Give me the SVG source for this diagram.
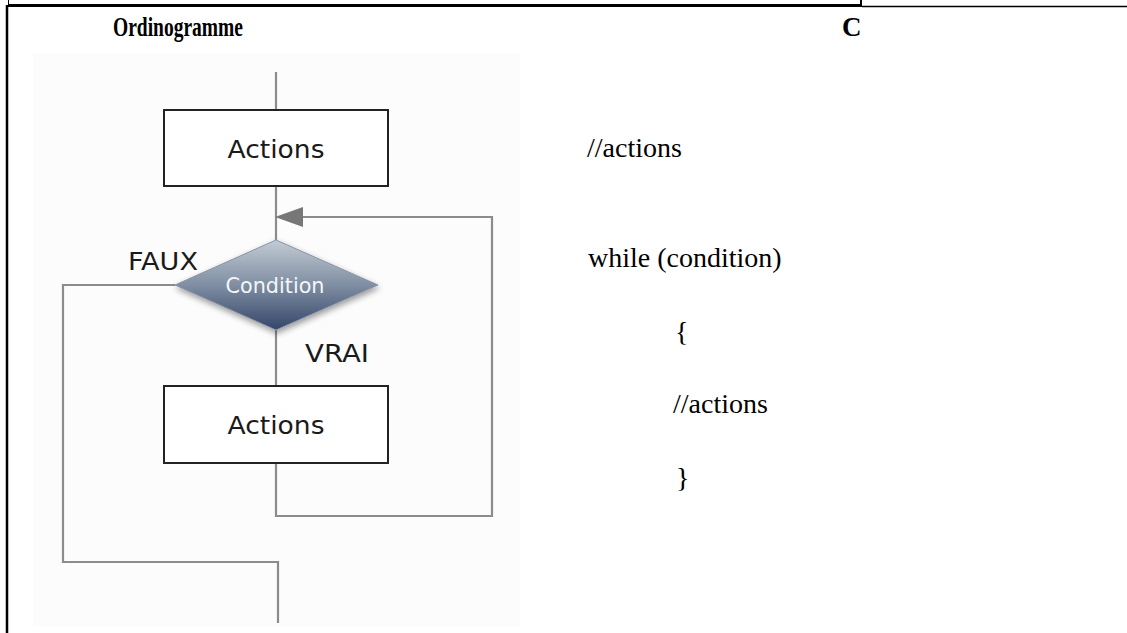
<svg xmlns="http://www.w3.org/2000/svg" width="1127" height="633" viewBox="0 0 1127 633">
  <style>
    .heading { font-family: "Liberation Serif", "Times New Roman", serif; font-weight: bold; font-size: 27px; fill: #000; }
    .code { font-family: "Liberation Serif", "Times New Roman", serif; font-size: 28px; fill: #000; }
    .lbl { font-family: "DejaVu Sans", Verdana, sans-serif; font-size: 25px; fill: #1a1a1a; }
    .box { fill: #ffffff; stroke: #222222; stroke-width: 2; }
    .wire { fill: none; stroke: #8c8c8c; stroke-width: 2.2; }
    .frame { stroke: #000; fill: none; }
  </style>
  <defs>
    <linearGradient id="diamondFill" x1="0" y1="0" x2="0" y2="1">
      <stop offset="0" stop-color="#c3ccd5"/>
      <stop offset="0.5" stop-color="#7f8ea2"/>
      <stop offset="1" stop-color="#34466a"/>
    </linearGradient>
    <filter id="softShadow" x="-20%" y="-20%" width="140%" height="150%">
      <feGaussianBlur in="SourceAlpha" stdDeviation="3"/>
      <feOffset dx="1" dy="3" result="blur"/>
      <feComponentTransfer><feFuncA type="linear" slope="0.4"/></feComponentTransfer>
      <feMerge><feMergeNode/><feMergeNode in="SourceGraphic"/></feMerge>
    </filter>
  </defs>

  <rect width="1127" height="633" fill="#ffffff"/>

  <!-- table frame -->
  <g id="frame">
    <line class="frame" x1="8" y1="5.5" x2="862" y2="5.5" stroke-width="3"/>
    <line class="frame" x1="861" y1="0" x2="861" y2="6" stroke-width="2"/>
    <line class="frame" x1="8.5" y1="0" x2="8.5" y2="5" stroke-width="1"/>
    <line class="frame" x1="862" y1="6.5" x2="1127" y2="6.5" stroke-width="1.5"/>
    <line class="frame" x1="7" y1="5" x2="7" y2="633" stroke-width="2.5"/>
  </g>

  <!-- column headings -->
  <g id="headings">
    <text class="heading" x="113" y="36" textLength="130" lengthAdjust="spacingAndGlyphs">Ordinogramme</text>
    <text class="heading" x="842" y="36">C</text>
  </g>

  <!-- flowchart panel -->
  <rect x="33" y="53" width="487" height="573" fill="#fcfcfc"/>

  <!-- connectors -->
  <g id="connectors">
    <line class="wire" x1="276" y1="72" x2="276" y2="110"/>
    <line class="wire" x1="276" y1="186" x2="276" y2="240"/>
    <line class="wire" x1="276" y1="330" x2="276" y2="386"/>
    <polyline class="wire" points="276,463 276,516 492,516 492,217 303,217"/>
    <polygon points="275,217 303,207 303,227" fill="#777777"/>
    <polyline class="wire" points="175,285 63,285 63,562 278,562 278,623"/>
  </g>

  <g id="node-actions-1">
    <rect class="box" x="164" y="110" width="224" height="76"/>
    <text class="lbl" x="276" y="158" text-anchor="middle" textLength="97" lengthAdjust="spacingAndGlyphs">Actions</text>
  </g>

  <g id="node-condition">
    <polygon points="276,240 378,285 276,330 175,285" fill="url(#diamondFill)" stroke="#8a95a3" stroke-width="1" filter="url(#softShadow)"/>
    <text x="275" y="293" text-anchor="middle" font-family="DejaVu Sans, Verdana, sans-serif" font-size="21" fill="#f4f6f8" textLength="99" lengthAdjust="spacingAndGlyphs">Condition</text>
  </g>

  <g id="node-actions-2">
    <rect class="box" x="164" y="386" width="224" height="77"/>
    <text class="lbl" x="276" y="434" text-anchor="middle" textLength="97" lengthAdjust="spacingAndGlyphs">Actions</text>
  </g>

  <g id="branch-labels">
    <text class="lbl" x="128" y="270" textLength="70" lengthAdjust="spacingAndGlyphs">FAUX</text>
    <text class="lbl" x="305" y="362" textLength="64" lengthAdjust="spacingAndGlyphs">VRAI</text>
  </g>

  <!-- C code column -->
  <g id="code">
    <text class="code" x="587" y="157">//actions</text>
    <text class="code" x="588" y="267">while (condition)</text>
    <text class="code" x="675" y="341">{</text>
    <text class="code" x="673" y="413">//actions</text>
    <text class="code" x="676" y="487">}</text>
  </g>
</svg>
